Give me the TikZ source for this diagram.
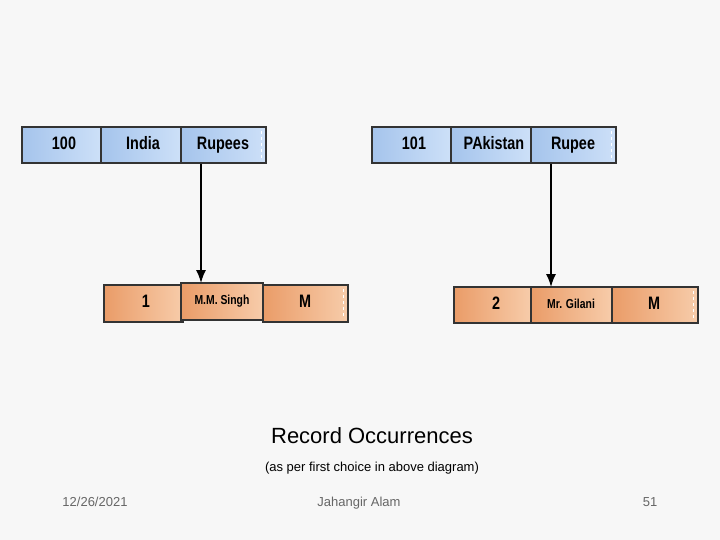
\documentclass[tikz,border=0pt]{standalone}
\usepackage{fontspec}
\setmainfont{Liberation Sans}
\usetikzlibrary{arrows.meta}
\definecolor{bL}{RGB}{165,196,236}
\definecolor{bR}{RGB}{205,224,248}
\definecolor{oL}{RGB}{234,156,104}
\definecolor{oR}{RGB}{247,204,170}
\begin{document}
\begin{tikzpicture}[x=1pt,y=-1pt,
 bcell/.style={draw=black!80,line width=2.5pt,left color=bL,right color=bR},
 ocell/.style={draw=black!80,line width=2.5pt,left color=oL,right color=oR},
 ctext/.style={font=\bfseries\fontsize{18}{20}\selectfont,xscale=0.8,text height=13pt,text depth=4pt,inner sep=0pt},
 stext/.style={font=\bfseries\fontsize{13}{15}\selectfont,xscale=0.8,text height=10pt,text depth=3pt,inner sep=0pt},
 foot/.style={font=\fontsize{13}{15}\selectfont,text=black!60,text height=10pt,text depth=3pt},
 arr/.style={-{Latex[length=13pt,width=10pt]},line width=1.5pt}]
\fill[black!3] (0,0) rectangle (720,540);
\useasboundingbox (0,0) rectangle (720,540);
% left top
\draw[bcell] (22,127) rectangle (101,163); \node[ctext] (a1) at (64,145) {100};
\draw[bcell] (101,127) rectangle (181,163); \node[ctext] (a2) at (143,145) {India};
\draw[bcell] (181,127) rectangle (266,163); \node[ctext] (a3) at (223,145) {Rupees};
\draw[white,dashed] (261,131)--(261,159);
% left bottom
\draw[ocell] (104,285) rectangle (183,322); \node[ctext] (b1) at (146,303) {1};
\draw[ocell] (263,285) rectangle (348,322); \node[ctext] (b3) at (305,303) {M};
\draw[white,dashed] (343,289)--(343,318);
\draw[ocell] (181,283) rectangle (263,320); \node[stext] (b2) at (222,301) {M.M. Singh};
% right top
\draw[bcell] (372,127) rectangle (451,163); \node[ctext] (c1) at (414,145) {101};
\draw[bcell] (451,127) rectangle (531,163); \node[ctext] (c2) at (494,145) {PAkistan};
\draw[bcell] (531,127) rectangle (616,163); \node[ctext] (c3) at (573,145) {Rupee};
\draw[white,dashed] (611,131)--(611,159);
% right bottom
\draw[ocell] (454,287) rectangle (531,323); \node[ctext] (d1) at (496,305) {2};
\draw[ocell] (531,287) rectangle (612,323); \node[stext] (d2) at (571,305) {Mr. Gilani};
\draw[ocell] (612,287) rectangle (698,323); \node[ctext] (d3) at (654,305) {M};
\draw[white,dashed] (693,291)--(693,319);
\coordinate (p1) at (201,164); \coordinate (q1) at (201,283);
\coordinate (p2) at (551,164); \coordinate (q2) at (551,287);
\draw[arr] (p1)--(q1);
\draw[arr] (p2)--(q2);
\node[font=\fontsize{22}{24}\selectfont,text height=16pt,text depth=5pt] (t) at (372,438) {Record Occurrences};
\node[font=\fontsize{13}{15}\selectfont,text height=10pt,text depth=3pt] (s) at (372,468) {(as per first choice in above diagram)};
\node[foot] (f1) at (95,503) {12/26/2021};
\node[foot] (f2) at (359,503) {Jahangir Alam};
\node[foot] (f3) at (650,503) {51};
\end{tikzpicture}
\end{document}
